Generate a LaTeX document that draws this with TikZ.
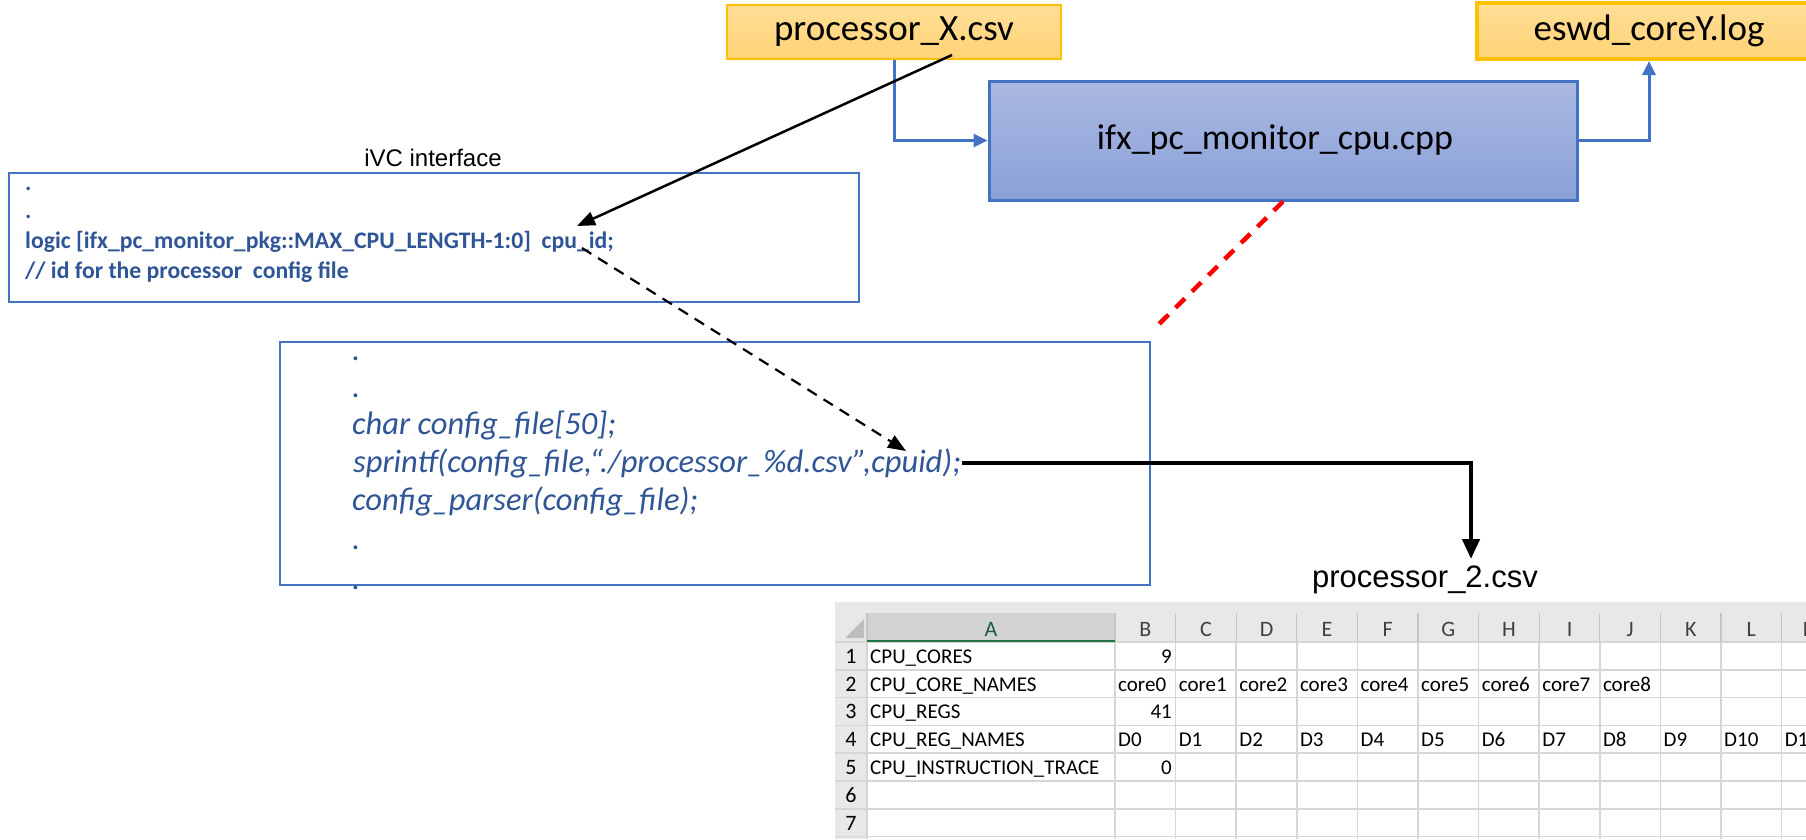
\documentclass[tikz,border=0pt]{standalone}
\usepackage{fontspec}
\setmainfont{Carlito}
\newfontfamily\arialfont{Liberation Sans}
\usetikzlibrary{arrows.meta}

\definecolor{officeblue}{RGB}{68,114,196}
\definecolor{codeblue}{RGB}{47,85,151}
\definecolor{goldline}{RGB}{255,192,0}
\definecolor{filetop}{RGB}{255,222,150}
\definecolor{filebot}{RGB}{255,211,118}
\definecolor{cpptop}{RGB}{170,184,225}
\definecolor{cppbot}{RGB}{138,161,216}
\definecolor{gridgray}{RGB}{214,214,214}
\definecolor{headgray}{RGB}{232,232,232}
\definecolor{headsel}{RGB}{210,210,210}
\definecolor{headline}{RGB}{196,196,196}
\definecolor{xlgreen}{RGB}{33,115,70}
\definecolor{cornertri}{RGB}{190,190,190}

\begin{document}
\begin{tikzpicture}[x=1pt,y=-1pt,
  filebox/.style={draw=goldline, top color=filetop, bottom color=filebot,
    inner sep=0pt, font=\fontsize{37}{40}\selectfont},
  cppbox/.style={draw=officeblue, line width=3pt, top color=cpptop, bottom color=cppbot,
    inner sep=0pt, font=\fontsize{36}{40}\selectfont},
  codebox/.style={draw=officeblue, inner sep=0pt},
  ivcline/.style={anchor=base west, inner sep=0pt, text=codeblue,
    font=\bfseries\fontsize{23.7}{28}\selectfont},
  cppline/.style={anchor=base west, inner sep=0pt, text=codeblue,
    font=\itshape\fontsize{32.5}{36}\selectfont},
  caption/.style={inner sep=0pt, font=\arialfont\fontsize{#1}{#1}\selectfont},
  blueflow/.style={draw=officeblue, line width=3pt, -{Triangle[length=14pt,width=13pt]}},
  blackarrow/.style={draw=black, line width=2.5pt, -{Triangle[length=18pt,width=14pt]}},
  dasharrow/.style={draw=black, line width=2.2pt, dash pattern=on 11pt off 8pt,
    -{Triangle[length=18pt,width=14pt]}},
  heavyarrow/.style={draw=black, line width=4.5pt, -{Triangle[length=20pt,width=17pt]}},
  reddash/.style={draw=red, line width=4.5pt, dash pattern=on 13pt off 10pt},
  hdrtext/.style={inner sep=0pt, anchor=base, font=\fontsize{22}{24}\selectfont, text=black!75},
  celltext/.style={inner sep=0pt, font=\fontsize{21}{24}\selectfont},
  cellL/.style={celltext, anchor=base west},
  cellR/.style={celltext, anchor=base east},
]
\useasboundingbox (0,0) rectangle (1806,839);
\fill[white] (0,0) rectangle (1806,839);

% --- input / output files and the C++ monitor ---
\node[filebox, line width=2.5pt, minimum width=334pt, minimum height=54pt] (procX) at (894,32) {processor\_X.csv};
\node[filebox, line width=4pt, minimum width=344pt, minimum height=56pt] (eswd) at (1649,31) {eswd\_coreY.log};
\node[cppbox, minimum width=588pt, minimum height=119pt] (ifx) at (1283,140.5) {\hspace*{-16pt}ifx\_pc\_monitor\_cpu.cpp};

\draw[blueflow] (procX.south) |- (ifx.west);
\draw[blueflow] (ifx.east) -| (eswd.south);

% --- SystemVerilog interface excerpt ---
\node[caption=24] (ivclabel) at (433,158) {iVC interface};
\node[codebox, line width=2.5pt, minimum width=850pt, minimum height=129pt] (ivcbox) at (434,237.5) {};
\node[ivcline] (ivc1) at (25,190) {.};
\node[ivcline] (ivc2) at (25,218) {.};
\node[ivcline] (ivc3) at (25,248) {logic [ifx\_pc\_monitor\_pkg::MAX\_CPU\_LENGTH-1:0]\ \ cpu\_id;};
\node[ivcline] (ivc4) at (25,278) {// id for the processor\ \ config file};

% --- C++ excerpt ---
\node[codebox, line width=2pt, minimum width=870pt, minimum height=243pt] (cppcode) at (715,463.5) {};
\node[cppline] (cpp1) at (352,360) {.};
\node[cppline] (cpp2) at (352,397) {.};
\node[cppline] (cpp3) at (352,434) {char config\_file[50];};
\node[cppline, inner xsep=1pt] (cpp4) at (352,472) {sprintf(config\_file,“./processor\_\%d.csv",cpuid);};
\node[cppline] (cpp5) at (352,510) {config\_parser(config\_file);};
\node[cppline] (cpp6) at (352,549) {.};
\node[cppline] (cpp7) at (352,589) {.};

% --- connectors ---
\coordinate (xsrc) at (952,55);
\coordinate (cpuidtip) at (577,226);
\coordinate (cpuidsrc) at (582,248);
\coordinate (sprintftip) at (906,451);
\coordinate (redend) at (1153,330);
\coordinate (csvtip) at (1471,559);

\draw[blackarrow] (xsrc) -- (cpuidtip);
\draw[dasharrow] (cpuidsrc) -- (sprintftip);
\draw[reddash] (ifx.south) -- (redend);
\draw[heavyarrow] (cpp4.east) -| (csvtip);

\node[caption=31] (csvname) at (1425,580) {processor\_2.csv};

% --- spreadsheet view of processor_2.csv ---
\begin{scope}
  \clip (835,602) rectangle (1806,839);
  \fill[headgray] (835,602) rectangle (1806,642);
  \fill[headgray] (835,642) rectangle (867,839);
  \fill[headsel] (867,613) rectangle (1115,642);
  % grid lines of the cell area
  \foreach \k in {0,...,7}
    \draw[gridgray, line width=1.5pt] (835,{642+27.8*\k}) -- (1806,{642+27.8*\k});
  \foreach \xx in {867,1115}
    \draw[gridgray, line width=1.5pt] (\xx,642) -- (\xx,839);
  \foreach \i in {1,...,12}
    \draw[gridgray, line width=1.5pt] ({1115+60.6*\i},642) -- ({1115+60.6*\i},839);
  % header separators
  \foreach \xx in {867,1115}
    \draw[headline, line width=1.2pt] (\xx,613) -- (\xx,642);
  \foreach \i in {1,...,12}
    \draw[headline, line width=1.2pt] ({1115+60.6*\i},613) -- ({1115+60.6*\i},642);
  \draw[xlgreen, line width=2.5pt] (867,641) -- (1115,641);
  \fill[cornertri] (845,638) -- (864,638) -- (864,619) -- cycle;
  % column letters
  \node[hdrtext, text=xlgreen!80!black] (colA) at (991,636) {A};
  \foreach \c [count=\i from 0] in {B,C,D,E,F,G,H,I,J,K,L,M}
    \node[hdrtext] (col\c) at ({1145.3+60.6*\i},636) {\c};
  % row numbers
  \foreach \r in {1,...,7}
    \node[celltext, anchor=base, font=\fontsize{22}{24}\selectfont] (row\r) at (851,{663.3+27.8*(\r-1)}) {\r};
  % cell contents
  \node[cellL] (a1) at (870,663.3) {CPU\_CORES};
  \node[cellR] (b1) at (1172,663.3) {9};
  \node[cellL] (a2) at (870,691.1) {CPU\_CORE\_NAMES};
  \foreach \i in {0,...,8}
    \node[cellL] (core\i) at ({1118+60.6*\i},691.1) {core\i};
  \node[cellL] (a3) at (870,718.9) {CPU\_REGS};
  \node[cellR] (b3) at (1172,718.9) {41};
  \node[cellL] (a4) at (870,746.7) {CPU\_REG\_NAMES};
  \foreach \i in {0,...,11}
    \node[cellL] (reg\i) at ({1118+60.6*\i},746.7) {D\i};
  \node[cellL] (a5) at (870,774.5) {CPU\_INSTRUCTION\_TRACE};
  \node[cellR] (b5) at (1172,774.5) {0};
\end{scope}
\end{tikzpicture}
\end{document}
